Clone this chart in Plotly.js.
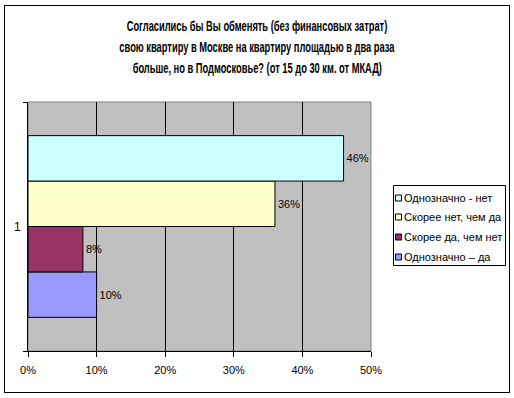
<!DOCTYPE html>
<html>
<head>
<meta charset="utf-8">
<script src="https://cdn.plot.ly/plotly-3.0.1.min.js"></script>
<style>
html,body{margin:0;padding:0;background:#fff;}
#wrap{position:relative;width:514px;height:398px;}
#chart{width:514px;height:398px;}
#frame{position:absolute;left:4px;top:5px;width:506px;height:388px;box-sizing:border-box;border:1px solid #000;pointer-events:none;}
</style>
</head>
<body>
<div id="wrap"><div id="chart"></div><div id="frame"></div></div>
<script>
// Data
var categories = ['1'];
var seriesNames = ['Однозначно – да', 'Скорее да, чем нет', 'Скорее нет, чем да', 'Однозначно - нет'];
var seriesValues = [[0.10], [0.08], [0.36], [0.46]];
var seriesColors = ['#9999FF', '#993366', '#FFFFCC', '#CCFFFF'];
var xTickVals = [0, 0.1, 0.2, 0.3, 0.4, 0.5];
var xTickText = ['0%', '10%', '20%', '30%', '40%', '50%'];
var titleLines = ['Согласились бы Вы обменять (без финансовых затрат)',
                  'свою квартиру в Москве на квартиру площадью в два раза',
                  'больше, но в Подмосковье? (от 15 до 30 км. от МКАД)'];

var baseFont = 'Arial, "Liberation Sans", sans-serif';

var traces = seriesNames.map(function(name, i){
  return {
    type: 'bar',
    orientation: 'h',
    name: name,
    y: categories,
    x: seriesValues[i],
    marker: {color: seriesColors[i], line: {color: '#000', width: 1}},
    text: seriesValues[i].map(function(v){ return Math.round(v*100) + '%'; }),
    textposition: 'outside',
    textfont: {family: baseFont, size: 11, color: '#000'},
    cliponaxis: false,
    hoverinfo: 'none'
  };
});

var L = 28, R = 143, T = 102, B = 47;
var W = 514, H = 398;
var pw = W - L - R, ph = H - T - B;
function px(x){ return (x - L) / pw; }
function py(y){ return (H - B - y) / ph; }

// Title lines as annotations (for Excel-like line spacing)
var titleY = [26, 47, 68];
var annotations = titleLines.map(function(line, i){
  return {
    text: '<b>' + line + '</b>',
    xref: 'paper', yref: 'paper',
    x: px(257), y: py(titleY[i]), xanchor: 'center', yanchor: 'middle',
    showarrow: false,
    font: {family: baseFont, size: 14, color: '#000'}
  };
});

// Legend (Excel style box, top to bottom in reverse trace order)
var shapes = [
  {type: 'rect', xref: 'paper', yref: 'paper', x0: 0, x1: 1, y0: 0, y1: 1,
   line: {color: '#808080', width: 1}, layer: 'below'},
  {type: 'rect', xref: 'paper', yref: 'paper', x0: px(393.5), x1: px(505.5), y0: py(265.5), y1: py(185.5),
   line: {color: '#000', width: 1}, fillcolor: '#fff', layer: 'above'}
];
var legendRowY = [198, 217, 237, 257];
for (var k = 0; k < seriesNames.length; k++) {
  var idx = seriesNames.length - 1 - k;
  var cy = legendRowY[k];
  shapes.push({type: 'rect', xref: 'paper', yref: 'paper',
    x0: px(395.5), x1: px(401.5), y0: py(cy + 3), y1: py(cy - 3),
    line: {color: '#000', width: 1}, fillcolor: seriesColors[idx], layer: 'above'});
  annotations.push({
    text: seriesNames[idx], xref: 'paper', yref: 'paper',
    x: px(402), y: py(cy), xanchor: 'left', yanchor: 'middle', showarrow: false,
    font: {family: baseFont, size: 11, color: '#000'}
  });
}

var layout = {
  width: W, height: H,
  autosize: false,
  margin: {l: L, r: R, t: T, b: B, pad: 0, autoexpand: false},
  paper_bgcolor: '#fff',
  plot_bgcolor: '#C0C0C0',
  barmode: 'group',
  bargap: 0.27,
  bargroupgap: 0,
  showlegend: false,
  xaxis: {
    range: [0, 0.5],
    tickvals: xTickVals,
    ticktext: xTickText,
    ticks: 'outside', ticklen: 5, tickcolor: '#000', tickwidth: 1,
    showline: true, linecolor: '#000', linewidth: 1,
    showgrid: true, gridcolor: '#000', gridwidth: 1,
    zeroline: false,
    ticklabelstandoff: 4,
    tickfont: {family: baseFont, size: 11, color: '#000'},
    fixedrange: true
  },
  yaxis: {
    type: 'category',
    tickson: 'boundaries',
    ticks: 'outside', ticklen: 4, tickcolor: '#000', tickwidth: 1,
    showline: true, linecolor: '#000', linewidth: 1,
    showgrid: false,
    tickfont: {family: baseFont, size: 12, color: '#000'},
    ticklabelstandoff: 4,
    fixedrange: true
  },
  annotations: annotations,
  shapes: shapes
};

var gd = document.getElementById('chart');
Plotly.newPlot(gd, traces, layout, {staticPlot: true, displayModeBar: false}).then(function(){
  // Condense the bold title lines horizontally like the original narrow rendering
  var groups = gd.querySelectorAll('.annotation');
  var targetW = 261;
  var first = groups[0] && groups[0].querySelector('text');
  if (first) {
    var s = targetW / first.getBBox().width;
    for (var i = 0; i < titleLines.length; i++) {
      groups[i].setAttribute('transform', 'translate(257,0) scale(' + s.toFixed(3) + ',1) translate(-257,0)');
    }
  }
});
</script>
</body>
</html>
